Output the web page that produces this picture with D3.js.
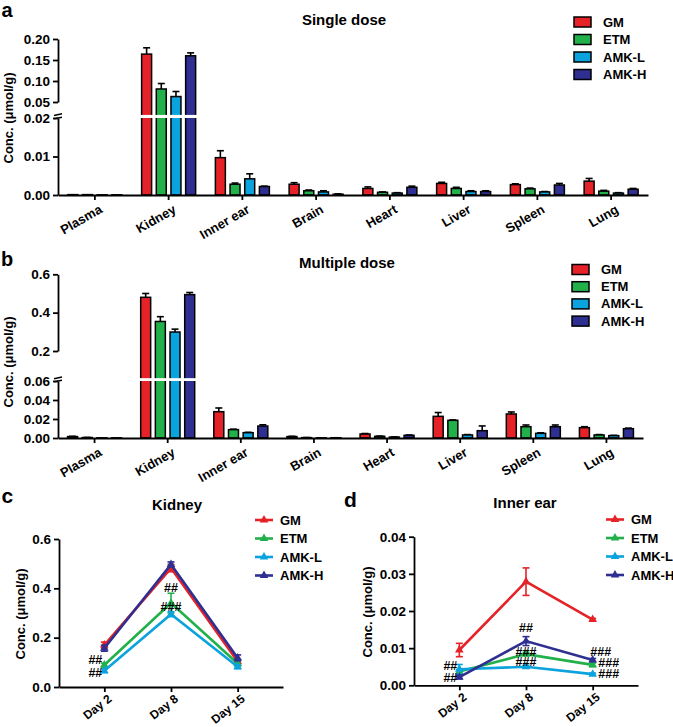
<!DOCTYPE html>
<html><head><meta charset="utf-8">
<script src="https://cdn.jsdelivr.net/npm/d3@7"></script>
<style>
body{margin:0;background:#fff}
text{font-family:Arial,"Liberation Sans",sans-serif;font-weight:bold;fill:#000}
</style>
</head><body><svg id="chart" width="673" height="727"></svg>
<script>
// ---------------- DATA ----------------
const series = ["GM", "ETM", "AMK-L", "AMK-H"];
const seriesColors = ["#e42228", "#22b04a", "#0ba3dd", "#2e2f91"];
const tissues = ["Plasma", "Kidney", "Inner ear", "Brain", "Heart", "Liver", "Spleen", "Lung"];

// Panel a: single dose (mean, SEM) per tissue
const singleGM      = [0.0001, 0.164, 0.0097, 0.0028, 0.0017, 0.0030, 0.0027, 0.0036];
const singleETM     = [0.0001, 0.081, 0.0028, 0.0011, 0.0007, 0.0017, 0.0016, 0.0010];
const singleAMKL    = [0.00005, 0.063, 0.0042, 0.0008, 0.0005, 0.0009, 0.0008, 0.0005];
const singleAMKH    = [0.00005, 0.160, 0.0022, 0.0002, 0.0020, 0.0009, 0.0026, 0.0015];
const singleGMErr   = [0, 0.015, 0.0018, 0.0004, 0.0004, 0.0003, 0.0002, 0.0007];
const singleETMErr  = [0, 0.013, 0.0003, 0.0002, 0.0001, 0.0003, 0.0002, 0.0002];
const singleAMKLErr = [0, 0.012, 0.0013, 0.0003, 0.0001, 0.0002, 0.0001, 0.0001];
const singleAMKHErr = [0, 0.007, 0.0001, 0.0001, 0.0003, 0.0002, 0.0004, 0.0002];

// Panel b: multiple dose
const multiGM      = [0.0015, 0.480, 0.0277, 0.0015, 0.0042, 0.0228, 0.0253, 0.0109];
const multiETM     = [0.0005, 0.354, 0.0088, 0.0004, 0.0018, 0.0186, 0.0119, 0.0032];
const multiAMKL    = [0.0002, 0.299, 0.0056, 0.0002, 0.0010, 0.0032, 0.0049, 0.0025];
const multiAMKH    = [0.0002, 0.494, 0.0126, 0.0003, 0.0028, 0.0077, 0.0119, 0.0098];
const multiGMErr   = [0.0003, 0.020, 0.0039, 0.0003, 0.0005, 0.0040, 0.0021, 0.0010];
const multiETMErr  = [0.0001, 0.025, 0.0005, 0.0001, 0.0002, 0.0004, 0.0018, 0.0004];
const multiAMKLErr = [0, 0.015, 0.0004, 0, 0.0001, 0.0004, 0.0006, 0.0003];
const multiAMKHErr = [0, 0.011, 0.0013, 0, 0.0004, 0.0050, 0.0018, 0.0006];

// Axis ticks with break
const singleLowTicks = [0, 0.01, 0.02];
const singleHighTicks = [0.05, 0.10, 0.15, 0.20];
const multiLowTicks = [0, 0.02, 0.04, 0.06];
const multiHighTicks = [0.2, 0.4, 0.6];

// Panels c/d: time course
const days = ["Day 2", "Day 8", "Day 15"];
const kidneyGM    = [0.170, 0.482, 0.103];
const kidneyETM   = [0.089, 0.340, 0.095];
const kidneyAMKL  = [0.066, 0.295, 0.082];
const kidneyAMKH  = [0.157, 0.497, 0.118];
const kidneyGMErr   = [0.012, 0.015, 0.010];
const kidneyETMErr  = [0.008, 0.040, 0.010];
const kidneyAMKLErr = [0.008, 0.010, 0.008];
const kidneyAMKHErr = [0.012, 0.010, 0.012];
const kidneyTicks = [0, 0.2, 0.4, 0.6];

const earGM    = [0.0095, 0.0279, 0.0177];
const earETM   = [0.0037, 0.0084, 0.0055];
const earAMKL  = [0.0043, 0.0050, 0.0030];
const earAMKH  = [0.0022, 0.0119, 0.0068];
const earGMErr   = [0.0018, 0.0037, 0.0003];
const earETMErr  = [0.0005, 0.0005, 0.0005];
const earAMKLErr = [0.0013, 0.0004, 0.0003];
const earAMKHErr = [0.0005, 0.0012, 0.0004];
const earTicks = [0, 0.01, 0.02, 0.03, 0.04];

// Significance marks: day index, value at text centre, text, side
const kidneyMarks = [
  {day: 0, value: 0.110, text: "##", side: "left"},
  {day: 0, value: 0.057, text: "##", side: "left"},
  {day: 1, value: 0.403, text: "##", side: "center"},
  {day: 1, value: 0.326, text: "###", side: "center"}
];
const earMarks = [
  {day: 0, value: 0.0053, text: "##", side: "left"},
  {day: 0, value: 0.0020, text: "##", side: "left"},
  {day: 1, value: 0.0155, text: "##", side: "center"},
  {day: 1, value: 0.0092, text: "###", side: "center"},
  {day: 1, value: 0.0064, text: "###", side: "center"},
  {day: 2, value: 0.0091, text: "###", side: "right"},
  {day: 2, value: 0.0061, text: "###", side: "right2"},
  {day: 2, value: 0.0032, text: "###", side: "right2"}
];

// ---------------- DRAW ----------------
const svg = d3.select("#chart");
const AX = 1.8;

function styleAxis(g, fs) {
  g.selectAll("path.domain").attr("stroke", "#000").attr("stroke-width", AX);
  g.selectAll(".tick line").attr("stroke", "#000").attr("stroke-width", AX);
  g.selectAll(".tick text").attr("font-size", fs || 13.5).attr("font-family", "Arial, 'Liberation Sans', sans-serif").attr("font-weight", "bold");
}

function barPanel(cfg) {
  const g = svg.append("g");
  const x = d3.scaleBand().domain(tissues).range([cfg.x0, cfg.x1]);
  const inner = d3.scaleBand().domain(series).range([-27, 27]).paddingInner(0.32).paddingOuter(0);
  const yLow = d3.scaleLinear().domain([0, cfg.breakVal]).range([cfg.yBase, cfg.yBreakLow]);
  const yHigh = d3.scaleLinear().domain(cfg.highDomain).range(cfg.highRange);
  const y = v => v <= cfg.breakVal ? yLow(v) : yHigh(v);

  cfg.values.forEach((vals, si) => {
    const errs = cfg.errors[si];
    vals.forEach((v, ti) => {
      const cx = x(tissues[ti]) + x.bandwidth() / 2;
      const bx = cx + inner(series[si]);
      const bw = inner.bandwidth();
      const top = y(v);
      if (errs[ti] > 0) {
        const ey = y(v + errs[ti]);
        g.append("line").attr("x1", bx + bw / 2).attr("x2", bx + bw / 2).attr("y1", top).attr("y2", ey)
          .attr("stroke", "#000").attr("stroke-width", 1.6);
        g.append("line").attr("x1", bx + bw / 2 - 3.5).attr("x2", bx + bw / 2 + 3.5).attr("y1", ey).attr("y2", ey)
          .attr("stroke", "#000").attr("stroke-width", 1.6);
      }
      g.append("rect").attr("x", bx).attr("y", top).attr("width", bw).attr("height", Math.max(0.01, cfg.yBase - top))
        .attr("fill", seriesColors[si]).attr("stroke", "#000").attr("stroke-width", 1.5);
    });
  });
  tissues.forEach((t, ti) => {
    const maxV = d3.max(cfg.values, vals => vals[ti]);
    if (maxV > cfg.breakVal) {
      const cx = x(t) + x.bandwidth() / 2;
      g.append("rect").attr("x", cx - 29).attr("width", 58)
        .attr("y", yHigh(cfg.breakVal) + 0.3).attr("height", yLow(cfg.breakVal) - yHigh(cfg.breakVal) - 0.3)
        .attr("fill", "#fff");
    }
  });

  const gl = g.append("g").attr("transform", `translate(${cfg.x0},0)`)
    .call(d3.axisLeft(yLow).tickValues(cfg.lowTicks).tickFormat(d3.format(cfg.lowFmt)).tickSize(5).tickSizeOuter(0).tickPadding(3));
  styleAxis(gl);
  const gh = g.append("g").attr("transform", `translate(${cfg.x0},0)`)
    .call(d3.axisLeft(yHigh).tickValues(cfg.highTicks).tickFormat(d3.format(cfg.highFmt)).tickSize(5).tickSizeOuter(0).tickPadding(3));
  styleAxis(gh);
  [yHigh(cfg.breakVal), yLow(cfg.breakVal)].forEach(yy => {
    g.append("line").attr("x1", cfg.x0 - 4).attr("x2", cfg.x0 + 4).attr("y1", yy + 0.8).attr("y2", yy - 0.8)
      .attr("stroke", "#000").attr("stroke-width", 1.5);
  });

  const gx = g.append("g").attr("transform", `translate(0,${cfg.yBase})`)
    .call(d3.axisBottom(x).tickSize(5).tickSizeOuter(0));
  styleAxis(gx, 13);
  gx.selectAll(".tick text")
    .attr("text-anchor", "end")
    .attr("transform", "translate(6,13) rotate(-30)")
    .attr("dy", "0.35em").attr("y", 0).attr("x", 0);

  g.append("text").attr("transform", `translate(${cfg.ylabX},${cfg.ylabY}) rotate(-90)`)
    .attr("text-anchor", "middle").attr("dy", "0.35em").attr("font-size", 13).text("Conc. (μmol/g)");
  g.append("text").attr("x", cfg.titleX).attr("y", cfg.titleY).attr("text-anchor", "middle").attr("font-size", 15).text(cfg.title);
  g.append("text").attr("x", cfg.letterX).attr("y", cfg.letterY).attr("font-size", 20).text(cfg.letter);

  series.forEach((s, i) => {
    const ly = cfg.legY + i * cfg.legStep;
    g.append("rect").attr("x", cfg.legX).attr("y", ly - 5).attr("width", 17).attr("height", 10)
      .attr("fill", seriesColors[i]).attr("stroke", "#000").attr("stroke-width", 1.5);
    g.append("text").attr("x", cfg.legX + 29).attr("y", ly).attr("dy", "0.35em").attr("font-size", 13).text(s);
  });
}

barPanel({
  x0: 58, x1: 648, yBase: 195, yBreakLow: 118, breakVal: 0.02,
  highDomain: [0.05, 0.20], highRange: [102, 39],
  lowTicks: singleLowTicks, highTicks: singleHighTicks, lowFmt: ".2f", highFmt: ".2f",
  values: [singleGM, singleETM, singleAMKL, singleAMKH],
  errors: [singleGMErr, singleETMErr, singleAMKLErr, singleAMKHErr],
  ylabX: 8, ylabY: 118, title: "Single dose", titleX: 344, titleY: 25,
  letter: "a", letterX: 1.5, letterY: 17, legX: 574, legY: 22, legStep: 17.5
});

barPanel({
  x0: 58, x1: 643, yBase: 438, yBreakLow: 381, breakVal: 0.06,
  highDomain: [0.2, 0.6], highRange: [351, 274.3],
  lowTicks: multiLowTicks, highTicks: multiHighTicks, lowFmt: ".2f", highFmt: ".1f",
  values: [multiGM, multiETM, multiAMKL, multiAMKH],
  errors: [multiGMErr, multiETMErr, multiAMKLErr, multiAMKHErr],
  ylabX: 8, ylabY: 362, title: "Multiple dose", titleX: 347, titleY: 268,
  letter: "b", letterX: 1, letterY: 266, legX: 572, legY: 269.5, legStep: 17.2
});

function linePanel(cfg) {
  const g = svg.append("g");
  const x = d3.scalePoint().domain(days).range([cfg.x0, cfg.x1]).padding(0.68);
  const y = d3.scaleLinear().domain([0, cfg.yMax]).range([cfg.yBase, cfg.yTop]);
  const tri = d3.symbol().type(d3.symbolTriangle).size(32);

  cfg.values.forEach((vals, si) => {
    const errs = cfg.errors[si];
    const col = seriesColors[si];
    g.append("path").datum(vals)
      .attr("d", d3.line().x((d, i) => x(days[i])).y(d => y(d)))
      .attr("fill", "none").attr("stroke", col).attr("stroke-width", 2.6);
    vals.forEach((v, i) => {
      const cx = x(days[i]);
      const y1 = y(v - errs[i]), y2 = y(v + errs[i]);
      g.append("line").attr("x1", cx).attr("x2", cx).attr("y1", y1).attr("y2", y2).attr("stroke", col).attr("stroke-width", 1.6);
      [y1, y2].forEach(yy => g.append("line").attr("x1", cx - 3.5).attr("x2", cx + 3.5).attr("y1", yy).attr("y2", yy)
        .attr("stroke", col).attr("stroke-width", 1.6));
      g.append("path").attr("d", tri).attr("transform", `translate(${cx},${y(v)})`).attr("fill", col);
    });
  });

  const gy = g.append("g").attr("transform", `translate(${cfg.x0},0)`)
    .call(d3.axisLeft(y).tickValues(cfg.ticks).tickFormat(d3.format(cfg.fmt)).tickSize(5).tickSizeOuter(0).tickPadding(3));
  styleAxis(gy);
  const gx = g.append("g").attr("transform", `translate(0,${cfg.yBase})`)
    .call(d3.axisBottom(x).tickSize(5).tickSizeOuter(0));
  styleAxis(gx, 12);
  gx.selectAll(".tick text")
    .attr("text-anchor", "end")
    .attr("transform", "translate(5,10) rotate(-38)")
    .attr("dy", "0.35em").attr("y", 0).attr("x", 0);

  cfg.marks.forEach(m => {
    const cx = x(days[m.day]);
    let anchor = "middle", dx = 0;
    if (m.side === "left") { anchor = "end"; dx = -2; }
    if (m.side === "right") { anchor = "middle"; dx = 8; }
    if (m.side === "right2") { anchor = "middle"; dx = 16; }
    g.append("text").attr("x", cx + dx).attr("y", y(m.value)).attr("dy", "0.36em")
      .attr("text-anchor", anchor).attr("font-size", 12.5).text(m.text);
  });

  g.append("text").attr("transform", `translate(${cfg.ylabX},${cfg.ylabY}) rotate(-90)`)
    .attr("text-anchor", "middle").attr("dy", "0.35em").attr("font-size", 13).text("Conc. (μmol/g)");
  g.append("text").attr("x", cfg.titleX).attr("y", cfg.titleY).attr("text-anchor", "middle").attr("font-size", 15).text(cfg.title);
  g.append("text").attr("x", cfg.letterX).attr("y", cfg.letterY).attr("font-size", 21).text(cfg.letter);

  series.forEach((s, i) => {
    const ly = cfg.legY + i * 18.5;
    g.append("line").attr("x1", cfg.legX).attr("x2", cfg.legX + 18).attr("y1", ly).attr("y2", ly)
      .attr("stroke", seriesColors[i]).attr("stroke-width", 2.6);
    g.append("path").attr("d", tri).attr("transform", `translate(${cfg.legX + 9},${ly})`).attr("fill", seriesColors[i]);
    g.append("text").attr("x", cfg.legX + 25).attr("y", ly).attr("dy", "0.35em").attr("font-size", 13).text(s);
  });
}

linePanel({
  x0: 59, x1: 283, yBase: 687, yTop: 539, yMax: 0.6, ticks: kidneyTicks, fmt: ".1f",
  values: [kidneyGM, kidneyETM, kidneyAMKL, kidneyAMKH],
  errors: [kidneyGMErr, kidneyETMErr, kidneyAMKLErr, kidneyAMKHErr],
  marks: kidneyMarks, ylabX: 20, ylabY: 614, title: "Kidney", titleX: 177, titleY: 510,
  letter: "c", letterX: 1.5, letterY: 503, legX: 255, legY: 520
});

linePanel({
  x0: 414, x1: 638, yBase: 685.3, yTop: 536.7, yMax: 0.04, ticks: earTicks, fmt: ".2f",
  values: [earGM, earETM, earAMKL, earAMKH],
  errors: [earGMErr, earETMErr, earAMKLErr, earAMKHErr],
  marks: earMarks, ylabX: 367, ylabY: 612, title: "Inner ear", titleX: 525, titleY: 508,
  letter: "d", letterX: 344, letterY: 507, legX: 606, legY: 519.5
});
</script>
</body></html>
